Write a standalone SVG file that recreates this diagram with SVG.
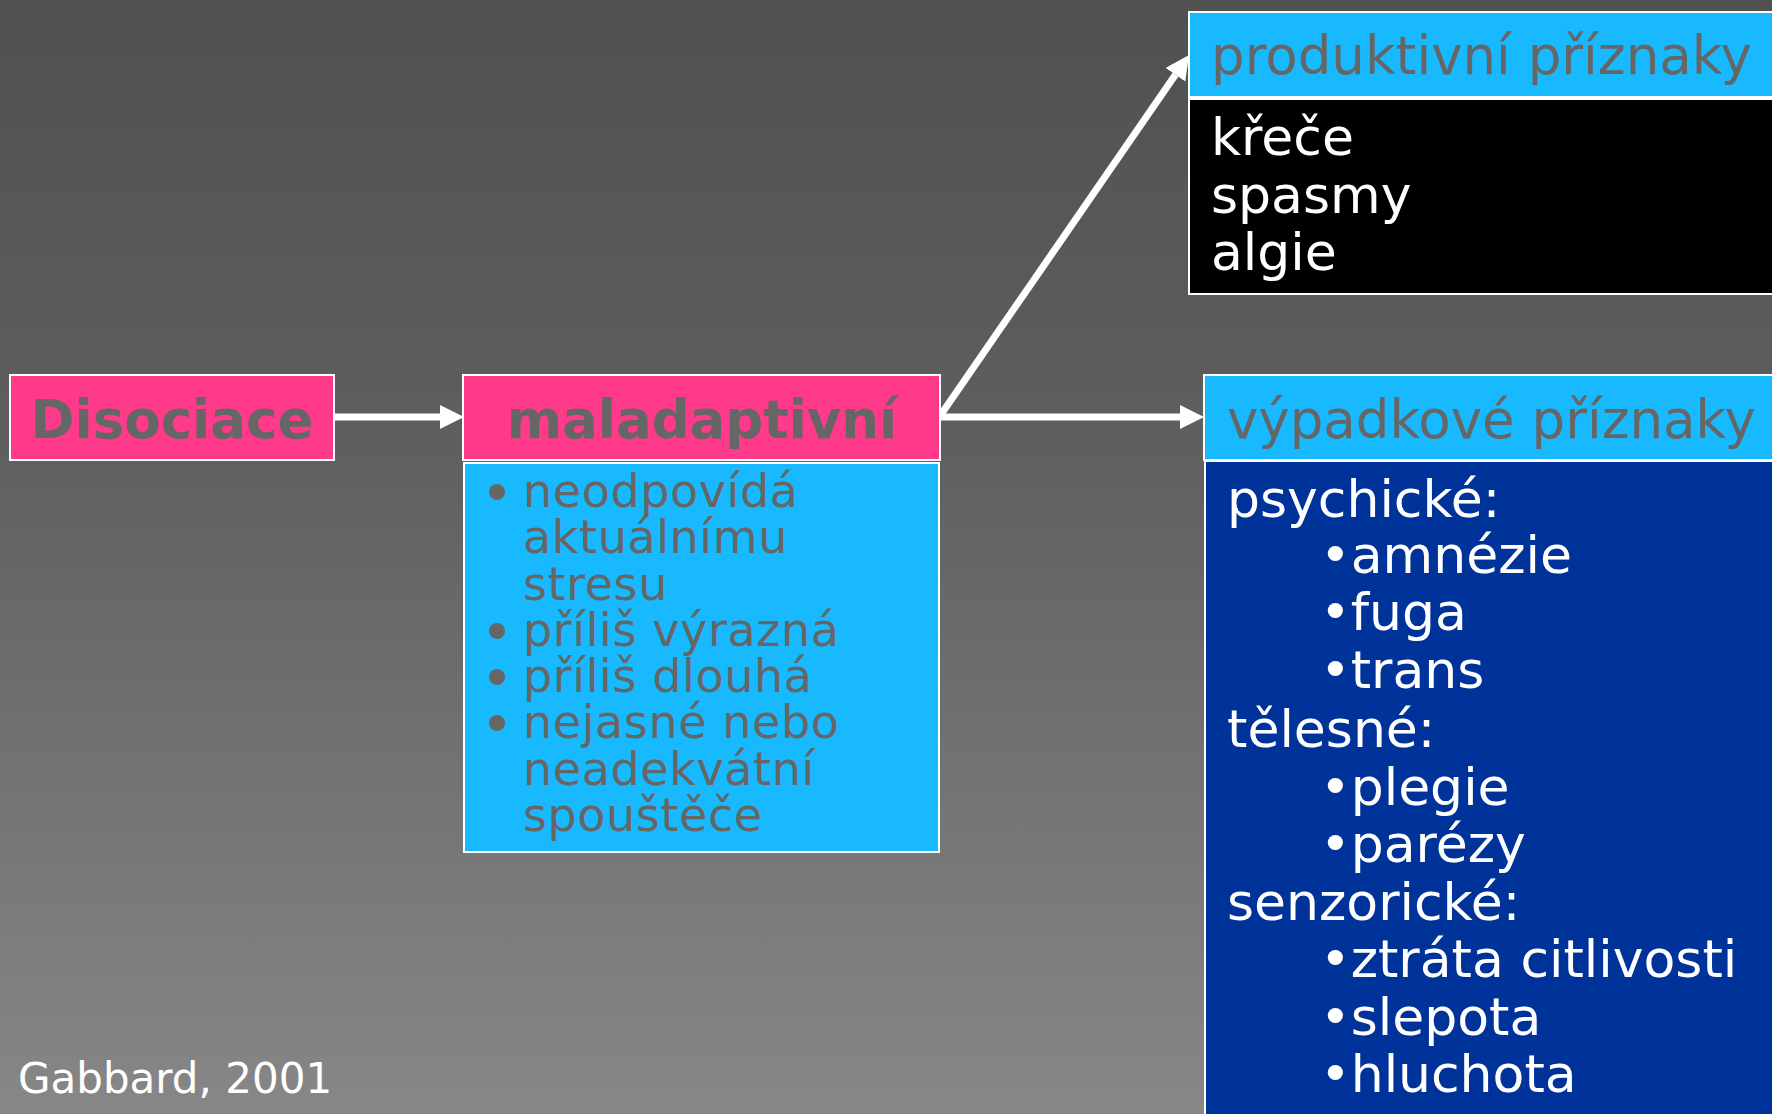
<svg xmlns="http://www.w3.org/2000/svg" width="1772" height="1114" viewBox="0 0 1772 1114">
<defs>
<linearGradient id="bg" x1="0" y1="0" x2="0" y2="1">
<stop offset="0" stop-color="#505050"/>
<stop offset="0.4" stop-color="#5f5f5f"/>
<stop offset="1" stop-color="#878787"/>
</linearGradient>
<marker id="ah" markerUnits="userSpaceOnUse" markerWidth="26" markerHeight="26" refX="0" refY="12" orient="auto" viewBox="0 0 26 26">
<path d="M0,0 L24,12 L0,24 z" fill="#ffffff"/>
</marker>
</defs>
<style>
text{font-family:"DejaVu Sans","Liberation Sans",sans-serif;}
.pink{fill:#ff3a8a;stroke:#ffffff;stroke-width:2;}
.cyan{fill:#19b9ff;stroke:#ffffff;stroke-width:2;}
.black{fill:#000000;stroke:#ffffff;stroke-width:2;}
.navy{fill:#003399;stroke:#ffffff;stroke-width:2;}
.title{font-weight:bold;font-size:53px;fill:#666666;text-anchor:middle;}
.gray{font-size:46px;fill:#666666;letter-spacing:0.6px;}
.dot{fill:#666666;}
.head{font-size:53px;fill:#666666;}
.white{font-size:52px;fill:#ffffff;}
.conn{stroke:#ffffff;stroke-width:7;fill:none;marker-end:url(#ah);}
</style>
<rect x="0" y="0" width="1772" height="1114" fill="url(#bg)"/>

<g id="connectors">
<line class="conn" x1="334" y1="417" x2="440" y2="417"/>
<line class="conn" x1="940" y1="417" x2="1180" y2="417"/>
<line class="conn" x1="940" y1="416" x2="1175.4" y2="74.8"/>
</g>

<g id="disociace">
<rect class="pink" x="10" y="375" width="324" height="85"/>
<text class="title" x="172" y="438">Disociace</text>
</g>

<g id="maladaptivni">
<rect class="pink" x="463" y="375" width="477" height="85"/>
<text class="title" x="702" y="438">maladaptivní</text>
</g>

<g id="maladaptivni-list">
<rect class="cyan" x="464" y="463" width="475" height="389"/>
<circle class="dot" cx="497" cy="492" r="8"/>
<text class="gray" x="523" y="507">neodpovídá</text>
<text class="gray" x="523" y="553">aktuálnímu</text>
<text class="gray" x="523" y="600">stresu</text>
<circle class="dot" cx="497" cy="631" r="8"/>
<text class="gray" x="523" y="646">příliš výrazná</text>
<circle class="dot" cx="497" cy="677" r="8"/>
<text class="gray" x="523" y="692">příliš dlouhá</text>
<circle class="dot" cx="497" cy="723" r="8"/>
<text class="gray" x="523" y="738">nejasné nebo</text>
<text class="gray" x="523" y="785">neadekvátní</text>
<text class="gray" x="523" y="831">spouštěče</text>
</g>

<g id="produktivni">
<rect class="cyan" x="1189" y="12" width="600" height="85"/>
<text class="head" x="1211" y="74">produktivní příznaky</text>
</g>

<g id="produktivni-list">
<rect class="black" x="1189" y="99" width="600" height="195"/>
<text class="white" x="1211" y="155">křeče</text>
<text class="white" x="1211" y="213">spasmy</text>
<text class="white" x="1211" y="270">algie</text>
</g>

<g id="vypadkove">
<rect class="cyan" x="1204" y="375" width="600" height="85"/>
<text class="head" x="1227" y="438">výpadkové příznaky</text>
</g>

<g id="vypadkove-list">
<rect class="navy" x="1205" y="461" width="600" height="700"/>
<text class="white" x="1227" y="517">psychické:</text>
<text class="white" x="1320" y="573">•amnézie</text>
<text class="white" x="1320" y="630">•fuga</text>
<text class="white" x="1320" y="688">•trans</text>
<text class="white" x="1227" y="747">tělesné:</text>
<text class="white" x="1320" y="805">•plegie</text>
<text class="white" x="1320" y="862">•parézy</text>
<text class="white" x="1227" y="920">senzorické:</text>
<text class="white" x="1320" y="977">•ztráta citlivosti</text>
<text class="white" x="1320" y="1035">•slepota</text>
<text class="white" x="1320" y="1092">•hluchota</text>
</g>

<text x="18" y="1093" font-size="42" fill="#ffffff">Gabbard, 2001</text>
</svg>
